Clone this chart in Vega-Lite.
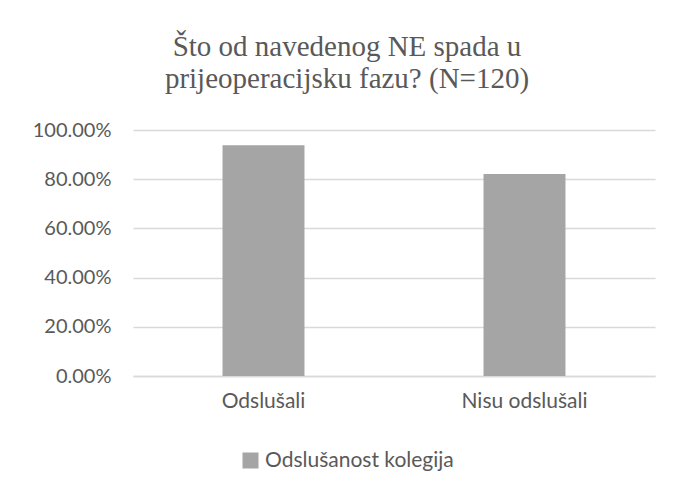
{
  "$schema": "https://vega.github.io/schema/vega-lite/v6.json",
  "autosize": {"type": "none"},
  "width": 522,
  "height": 246,
  "padding": {"left": 133, "top": 130, "right": 20, "bottom": 116},
  "background": "white",
  "title": {
    "text": ["Što od navedenog NE spada u", "prijeoperacijsku fazu? (N=120)"],
    "font": "Liberation Serif",
    "fontSize": 29,
    "fontWeight": "normal",
    "color": "#595959",
    "anchor": "middle",
    "frame": "group",
    "dx": -47,
    "offset": 26,
    "lineHeight": 32
  },
  "data": {
    "values": [
      {"grupa": "Odslušali", "udio": 0.938, "serija": "Odslušanost kolegija"},
      {"grupa": "Nisu odslušali", "udio": 0.821, "serija": "Odslušanost kolegija"}
    ]
  },
  "mark": {"type": "bar"},
  "encoding": {
    "x": {
      "field": "grupa",
      "type": "nominal",
      "sort": ["Odslušali", "Nisu odslušali"],
      "scale": {"paddingInner": 0.686, "paddingOuter": 0.343},
      "axis": {
        "title": null,
        "labelAngle": 0,
        "ticks": false,
        "domain": true,
        "domainColor": "#d9d9d9",
        "domainWidth": 1.5,
        "labelPadding": 14,
        "labelFont": "Lato",
        "labelFontSize": 21,
        "labelColor": "#595959"
      }
    },
    "y": {
      "field": "udio",
      "type": "quantitative",
      "scale": {"domain": [0, 1]},
      "axis": {
        "title": null,
        "values": [0, 0.2, 0.4, 0.6, 0.8, 1],
        "format": ".2%",
        "domain": false,
        "ticks": false,
        "labelPadding": 22,
        "labelFont": "Lato",
        "labelFontSize": 20,
        "labelColor": "#595959",
        "gridColor": "#d9d9d9",
        "gridWidth": 1.5
      }
    },
    "color": {
      "field": "serija",
      "type": "nominal",
      "scale": {"range": ["#a5a5a5"]},
      "legend": {
        "title": null,
        "orient": "none",
        "legendX": 107,
        "legendY": 320,
        "symbolType": "square",
        "symbolSize": 256,
        "symbolStrokeWidth": 0,
        "labelFont": "Lato",
        "labelFontSize": 21,
        "labelLimit": 400,
        "labelColor": "#595959",
        "labelOffset": 4
      }
    }
  },
  "config": {
    "view": {"stroke": null}
  }
}
